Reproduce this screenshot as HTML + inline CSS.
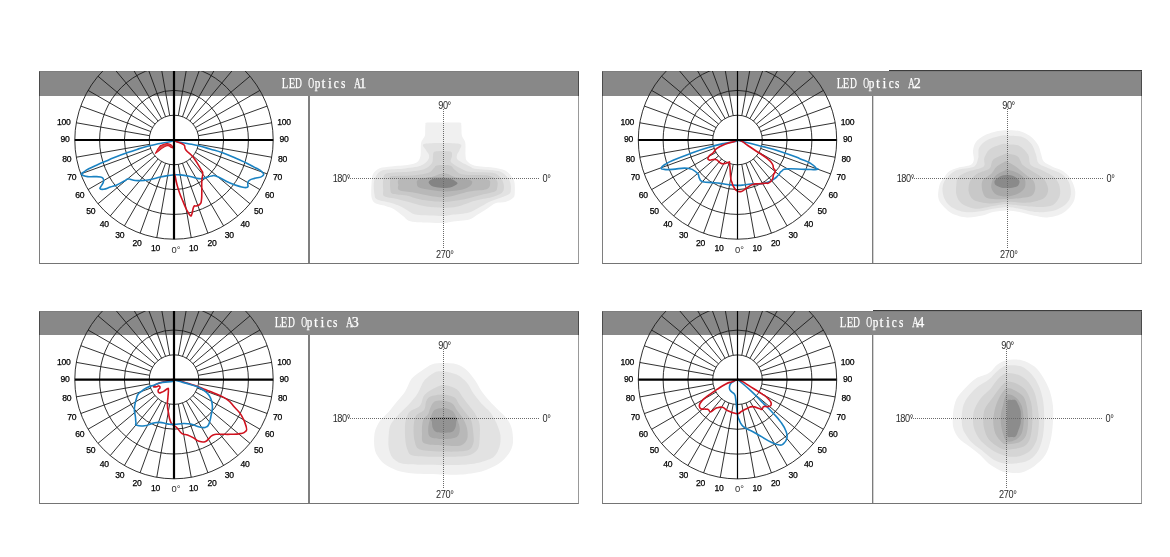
<!DOCTYPE html>
<html><head><meta charset="utf-8"><title>LED Optics</title>
<style>
html,body{margin:0;padding:0;background:#fff;}
body{width:1170px;height:557px;position:relative;overflow:hidden;}
.box{position:absolute;border:1px solid #8a8a8a;border-left-color:#7e7e7e;border-right-color:#999;border-bottom-color:#747474;border-top:none;box-sizing:content-box;}
.dk{position:absolute;height:1px;background:#3c3c3c;}
.hdr{position:absolute;background:#888888;box-sizing:border-box;border-top:1px solid #7e7e7e;border-left:1px solid #4a4a4a;border-right:1px solid #4a4a4a;}
.div{position:absolute;width:2px;background:#7f7f7f;}
.ttl{position:absolute;height:14px;font-family:"Liberation Serif",serif;font-size:14px;line-height:14px;color:#fff;white-space:nowrap;-webkit-text-stroke:0.25px #fff;}
.ttl span{display:inline-block;width:6.5px;text-align:center;}
.ttl span.w{transform:scaleX(0.76);}
.ttl span.d{transform:scaleX(0.68);}
.ttl span.o{transform:scaleX(0.58);}
.ttl span.m{transform:scaleX(0.8);}
svg{position:absolute;left:0;top:0;}
.pl{font-family:"Liberation Sans",Arial,sans-serif;font-size:8.6px;fill:#000;stroke:#000;stroke-width:0.25;text-anchor:middle;letter-spacing:-0.3px;}
.pl0{font-family:"Liberation Sans",Arial,sans-serif;font-size:9.4px;fill:#2a2a2a;}
.cl{font-family:"Liberation Sans",Arial,sans-serif;font-size:10px;fill:#2a2a2a;letter-spacing:-0.45px;}
.dot{stroke:#6a6a6a;stroke-width:1;stroke-dasharray:1 1;shape-rendering:crispEdges;}
</style></head><body>

<div class="box" style="left:39px;top:71px;width:538px;height:192px"></div>
<div class="hdr" style="left:39px;top:71px;width:540px;height:25px"></div>
<div class="div" style="left:308px;top:96px;height:167px"></div>
<div class="ttl" style="left:281.2px;top:76.7px"><span class="w">L</span><span class="w">E</span><span class="d">D</span><span>&nbsp;</span><span class="o">O</span><span class="m">p</span><span>t</span><span>i</span><span class="m">c</span><span class="m">s</span><span>&nbsp;</span><span class="d">A</span><span>1</span></div>
<div class="box" style="left:602px;top:71px;width:538px;height:192px"></div>
<div class="hdr" style="left:602px;top:71px;width:540px;height:25px"></div>
<div class="dk" style="left:889px;top:70px;width:253px"></div>
<div class="div" style="left:872px;top:96px;height:167px;width:1px;background:#7c7c7c;box-shadow:1px 0 0 #d2d2d2"></div>
<div class="ttl" style="left:835.7px;top:76.7px"><span class="w">L</span><span class="w">E</span><span class="d">D</span><span>&nbsp;</span><span class="o">O</span><span class="m">p</span><span>t</span><span>i</span><span class="m">c</span><span class="m">s</span><span>&nbsp;</span><span class="d">A</span><span>2</span></div>
<div class="box" style="left:39px;top:311px;width:538px;height:192px"></div>
<div class="hdr" style="left:39px;top:311px;width:540px;height:24px"></div>
<div class="div" style="left:308px;top:335px;height:168px"></div>
<div class="ttl" style="left:273.7px;top:316.3px"><span class="w">L</span><span class="w">E</span><span class="d">D</span><span>&nbsp;</span><span class="o">O</span><span class="m">p</span><span>t</span><span>i</span><span class="m">c</span><span class="m">s</span><span>&nbsp;</span><span class="d">A</span><span>3</span></div>
<div class="box" style="left:602px;top:311px;width:538px;height:192px"></div>
<div class="hdr" style="left:602px;top:311px;width:540px;height:24px"></div>
<div class="dk" style="left:873px;top:310px;width:269px"></div>
<div class="div" style="left:872px;top:335px;height:168px;width:1px;background:#7c7c7c;box-shadow:1px 0 0 #d2d2d2"></div>
<div class="ttl" style="left:839.2px;top:316.3px"><span class="w">L</span><span class="w">E</span><span class="d">D</span><span>&nbsp;</span><span class="o">O</span><span class="m">p</span><span>t</span><span>i</span><span class="m">c</span><span class="m">s</span><span>&nbsp;</span><span class="d">A</span><span>4</span></div>
<svg width="1170" height="557" viewBox="0 0 1170 557">
<defs><filter id="soft" x="-10%" y="-10%" width="120%" height="120%"><feGaussianBlur stdDeviation="0.7"/></filter>
<clipPath id="clip0"><rect x="39" y="71" width="539" height="192"/></clipPath>
<clipPath id="clip1"><rect x="602" y="71" width="539" height="192"/></clipPath>
<clipPath id="clip2"><rect x="39" y="311" width="539" height="192"/></clipPath>
<clipPath id="clip3"><rect x="602" y="311" width="539" height="192"/></clipPath>
</defs>
<g clip-path="url(#clip0)">
<circle cx="174.0" cy="140.0" r="24.8" fill="none" stroke="#1a1a1a" stroke-width="0.9"/>
<circle cx="174.0" cy="140.0" r="49.6" fill="none" stroke="#1a1a1a" stroke-width="0.9"/>
<circle cx="174.0" cy="140.0" r="74.4" fill="none" stroke="#1a1a1a" stroke-width="0.9"/>
<circle cx="174.0" cy="140.0" r="99.2" fill="none" stroke="#1a1a1a" stroke-width="0.9"/>
<line x1="178.31" y1="164.42" x2="191.23" y2="237.69" stroke="#1a1a1a" stroke-width="0.9"/>
<line x1="182.48" y1="163.30" x2="207.93" y2="233.22" stroke="#1a1a1a" stroke-width="0.9"/>
<line x1="186.40" y1="161.48" x2="223.60" y2="225.91" stroke="#1a1a1a" stroke-width="0.9"/>
<line x1="189.94" y1="159.00" x2="237.76" y2="215.99" stroke="#1a1a1a" stroke-width="0.9"/>
<line x1="193.00" y1="155.94" x2="249.99" y2="203.76" stroke="#1a1a1a" stroke-width="0.9"/>
<line x1="195.48" y1="152.40" x2="259.91" y2="189.60" stroke="#1a1a1a" stroke-width="0.9"/>
<line x1="197.30" y1="148.48" x2="267.22" y2="173.93" stroke="#1a1a1a" stroke-width="0.9"/>
<line x1="198.42" y1="144.31" x2="271.69" y2="157.23" stroke="#1a1a1a" stroke-width="0.9"/>
<line x1="198.42" y1="135.69" x2="271.69" y2="122.77" stroke="#1a1a1a" stroke-width="0.9"/>
<line x1="197.30" y1="131.52" x2="267.22" y2="106.07" stroke="#1a1a1a" stroke-width="0.9"/>
<line x1="195.48" y1="127.60" x2="259.91" y2="90.40" stroke="#1a1a1a" stroke-width="0.9"/>
<line x1="193.00" y1="124.06" x2="249.99" y2="76.24" stroke="#1a1a1a" stroke-width="0.9"/>
<line x1="189.94" y1="121.00" x2="237.76" y2="64.01" stroke="#1a1a1a" stroke-width="0.9"/>
<line x1="186.40" y1="118.52" x2="223.60" y2="54.09" stroke="#1a1a1a" stroke-width="0.9"/>
<line x1="182.48" y1="116.70" x2="207.93" y2="46.78" stroke="#1a1a1a" stroke-width="0.9"/>
<line x1="178.31" y1="115.58" x2="191.23" y2="42.31" stroke="#1a1a1a" stroke-width="0.9"/>
<line x1="169.69" y1="115.58" x2="156.77" y2="42.31" stroke="#1a1a1a" stroke-width="0.9"/>
<line x1="165.52" y1="116.70" x2="140.07" y2="46.78" stroke="#1a1a1a" stroke-width="0.9"/>
<line x1="161.60" y1="118.52" x2="124.40" y2="54.09" stroke="#1a1a1a" stroke-width="0.9"/>
<line x1="158.06" y1="121.00" x2="110.24" y2="64.01" stroke="#1a1a1a" stroke-width="0.9"/>
<line x1="155.00" y1="124.06" x2="98.01" y2="76.24" stroke="#1a1a1a" stroke-width="0.9"/>
<line x1="152.52" y1="127.60" x2="88.09" y2="90.40" stroke="#1a1a1a" stroke-width="0.9"/>
<line x1="150.70" y1="131.52" x2="80.78" y2="106.07" stroke="#1a1a1a" stroke-width="0.9"/>
<line x1="149.58" y1="135.69" x2="76.31" y2="122.77" stroke="#1a1a1a" stroke-width="0.9"/>
<line x1="149.58" y1="144.31" x2="76.31" y2="157.23" stroke="#1a1a1a" stroke-width="0.9"/>
<line x1="150.70" y1="148.48" x2="80.78" y2="173.93" stroke="#1a1a1a" stroke-width="0.9"/>
<line x1="152.52" y1="152.40" x2="88.09" y2="189.60" stroke="#1a1a1a" stroke-width="0.9"/>
<line x1="155.00" y1="155.94" x2="98.01" y2="203.76" stroke="#1a1a1a" stroke-width="0.9"/>
<line x1="158.06" y1="159.00" x2="110.24" y2="215.99" stroke="#1a1a1a" stroke-width="0.9"/>
<line x1="161.60" y1="161.48" x2="124.40" y2="225.91" stroke="#1a1a1a" stroke-width="0.9"/>
<line x1="165.52" y1="163.30" x2="140.07" y2="233.22" stroke="#1a1a1a" stroke-width="0.9"/>
<line x1="169.69" y1="164.42" x2="156.77" y2="237.69" stroke="#1a1a1a" stroke-width="0.9"/>
</g>
<text x="171.6" y="252.6" class="pl0">0°</text>
<text x="155.6" y="251.3" class="pl">10</text>
<text x="193.6" y="251.3" class="pl">10</text>
<text x="137.1" y="246.3" class="pl">20</text>
<text x="212.1" y="246.3" class="pl">20</text>
<text x="119.8" y="238.2" class="pl">30</text>
<text x="229.3" y="238.2" class="pl">30</text>
<text x="104.2" y="227.1" class="pl">40</text>
<text x="245.0" y="227.1" class="pl">40</text>
<text x="90.7" y="213.5" class="pl">50</text>
<text x="258.5" y="213.5" class="pl">50</text>
<text x="79.8" y="197.7" class="pl">60</text>
<text x="269.4" y="197.7" class="pl">60</text>
<text x="71.7" y="180.2" class="pl">70</text>
<text x="277.5" y="180.2" class="pl">70</text>
<text x="66.8" y="161.6" class="pl">80</text>
<text x="282.4" y="161.6" class="pl">80</text>
<text x="65.1" y="142.4" class="pl">90</text>
<text x="284.1" y="142.4" class="pl">90</text>
<text x="63.7" y="124.9" class="pl">100</text>
<text x="283.9" y="124.9" class="pl">100</text>
<path d="M174.00,140.00 C172.61,140.00 174.73,140.57 171.00,141.50 C167.27,142.43 165.76,142.35 160.00,143.50 C154.24,144.65 155.53,144.20 149.40,145.80 C143.27,147.40 143.32,147.50 137.00,149.50 C130.68,151.50 131.57,151.22 125.70,153.30 C119.83,155.38 120.17,155.27 115.00,157.30 C109.83,159.33 110.83,158.98 106.30,160.90 C101.77,162.82 102.67,162.39 98.00,164.50 C93.33,166.61 92.56,166.80 88.80,168.80 C85.04,170.80 85.77,170.51 83.90,172.00 C82.03,173.49 80.79,173.17 81.80,174.40 C82.81,175.63 84.39,176.01 87.70,176.60 C91.01,177.19 90.76,176.47 94.20,176.60 C97.64,176.73 98.17,176.46 100.60,177.10 C103.03,177.74 102.58,177.64 103.30,179.00 C104.02,180.36 103.86,180.33 103.30,182.20 C102.74,184.07 102.05,184.27 101.20,186.00 C100.35,187.73 99.41,187.85 100.10,188.70 C100.79,189.55 101.08,189.63 103.80,189.20 C106.52,188.77 106.83,188.25 110.30,187.10 C113.77,185.95 113.20,186.47 116.80,184.90 C120.40,183.33 120.79,182.77 123.80,181.20 C126.81,179.63 125.94,179.37 128.10,179.00 C130.26,178.63 129.26,179.37 131.90,179.80 C134.54,180.23 133.33,180.63 138.00,180.60 C142.67,180.57 143.48,180.66 149.40,179.70 C155.32,178.74 155.24,178.09 160.20,177.00 C165.16,175.91 164.32,176.13 168.00,175.60 C171.68,175.07 170.67,175.19 174.00,175.00 C177.33,174.81 176.18,174.50 180.50,174.90 C184.82,175.30 185.32,175.51 190.20,176.50 C195.08,177.49 195.07,178.17 198.80,178.60 C202.53,179.03 200.76,178.79 204.20,178.10 C207.64,177.41 208.26,176.43 211.70,176.00 C215.14,175.57 212.22,174.63 217.10,176.50 C221.98,178.37 223.68,180.28 230.00,183.00 C236.32,185.72 236.19,185.55 240.80,186.70 C245.41,187.85 245.43,188.15 247.30,187.30 C249.17,186.45 247.24,185.37 247.80,183.50 C248.36,181.63 247.24,181.74 249.40,180.30 C251.56,178.86 252.59,179.11 255.90,178.10 C259.21,177.09 260.07,178.07 261.80,176.50 C263.53,174.93 264.75,174.87 262.40,172.20 C260.05,169.53 257.91,169.25 253.00,166.50 C248.09,163.75 249.33,164.43 244.00,161.90 C238.67,159.37 238.73,159.43 233.00,157.00 C227.27,154.57 228.63,154.93 222.50,152.80 C216.37,150.67 216.32,150.87 210.00,149.00 C203.68,147.13 204.93,147.27 198.80,145.80 C192.67,144.33 193.03,144.65 187.00,143.50 C180.97,142.35 179.67,142.43 176.20,141.50 C172.73,140.57 175.39,140.00 174.00,140.00 Z" fill="none" stroke="#1a82c2" stroke-width="1.6" stroke-linejoin="round"/>
<path d="M174.00,140.00 C174.59,139.60 173.61,140.25 176.20,141.50 C178.79,142.75 181.11,142.41 183.70,144.70 C186.29,146.99 183.31,146.66 185.90,150.10 C188.49,153.54 189.40,152.43 193.40,157.60 C197.40,162.77 198.42,165.23 200.90,169.50 C203.38,173.77 202.46,170.59 202.70,173.60 C202.94,176.61 202.04,175.79 201.80,180.80 C201.56,185.81 201.91,187.15 201.80,192.40 C201.69,197.65 201.88,197.38 201.40,200.50 C200.92,203.62 201.33,202.66 200.00,204.10 C198.67,205.54 198.08,205.18 196.40,205.90 C194.72,206.62 194.90,204.64 193.70,206.80 C192.50,208.96 192.86,211.73 191.90,214.00 C190.94,216.27 191.54,216.50 190.10,215.30 C188.66,214.10 188.39,213.21 186.50,209.50 C184.61,205.79 184.89,205.96 183.00,201.40 C181.11,196.84 181.08,197.17 179.40,192.40 C177.72,187.63 177.79,187.61 176.70,183.50 C175.61,179.39 175.94,180.07 175.30,177.00 C174.66,173.93 174.62,176.53 174.30,172.00 C173.98,167.47 174.15,165.87 174.10,160.00 C174.05,154.13 174.13,154.53 174.10,150.00 C174.07,145.47 174.03,145.67 174.00,143.00 C173.97,140.33 173.41,140.40 174.00,140.00 Z" fill="none" stroke="#d0121f" stroke-width="1.6" stroke-linejoin="round"/>
<polygon points="155.4,153.4 157.8,149 160.2,145.8 163.9,144.3 167,143.5 169.4,144 171.3,145 172.6,146.4 173.4,147.6 172.6,147.9 170.8,147.2 169.2,145.9 167.6,145.6 164.8,146.6 161.5,148.6 157.8,151.6" fill="#dc4a4a" stroke="#d0121f" stroke-width="1.1" stroke-linejoin="round"/>
<g clip-path="url(#clip0)">
<line x1="74.80" y1="140.0" x2="273.20" y2="140.0" stroke="#000" stroke-width="2.2"/>
<line x1="174.0" y1="40.80" x2="174.0" y2="239.20" stroke="#000" stroke-width="2.2"/>
</g>
<g filter="url(#soft)">
<path d="M427.00,122.60 C429.62,122.28 438.12,122.40 443.00,122.40 C447.88,122.40 456.77,122.28 459.50,122.60 C462.23,122.91 460.90,123.39 461.20,124.50 C461.50,125.61 461.38,128.28 461.50,130.00 C461.62,131.72 461.43,134.08 462.00,136.00 C462.57,137.92 464.78,139.95 465.30,142.80 C465.82,145.65 465.25,152.27 465.50,155.00 C465.75,157.73 465.57,159.38 467.00,161.00 C468.43,162.62 471.18,164.81 475.00,165.80 C478.82,166.79 487.95,166.89 492.50,167.60 C497.05,168.31 502.33,169.01 505.30,170.50 C508.27,171.99 510.90,175.62 512.30,177.50 C513.69,179.38 514.25,180.38 514.60,183.00 C514.95,185.62 514.95,192.68 514.60,195.00 C514.25,197.32 513.69,197.45 512.30,198.50 C510.90,199.55 507.75,201.31 505.30,202.00 C502.86,202.69 498.81,202.05 496.00,203.10 C493.19,204.15 489.41,207.25 486.60,209.00 C483.80,210.75 479.91,213.23 477.30,214.80 C474.69,216.38 473.04,218.45 469.20,219.50 C465.36,220.55 455.69,221.28 451.70,221.80 C447.71,222.33 448.51,223.00 442.60,223.00 C436.69,223.00 418.24,222.85 412.30,221.80 C406.36,220.75 405.79,217.92 403.00,216.00 C400.21,214.08 396.32,210.50 393.70,209.00 C391.07,207.50 388.31,206.88 385.50,206.00 C382.69,205.12 377.10,204.45 375.00,203.10 C372.90,201.75 372.02,199.87 371.50,197.00 C370.98,194.13 371.27,187.45 371.50,184.00 C371.73,180.55 371.77,176.37 373.00,174.00 C374.23,171.63 376.95,169.34 379.70,168.20 C382.44,167.06 386.94,166.93 391.30,166.40 C395.67,165.88 404.94,165.31 408.80,164.70 C412.66,164.08 415.25,163.61 417.00,162.30 C418.75,161.00 419.88,158.93 420.50,156.00 C421.12,153.07 420.46,145.80 421.10,142.80 C421.75,139.80 424.19,137.92 424.80,136.00 C425.42,134.08 425.09,131.72 425.20,130.00 C425.31,128.28 425.23,125.61 425.50,124.50 C425.77,123.39 424.38,122.91 427.00,122.60 Z" fill="#f0f0f0"/>
<path d="M424.90,143.80 C429.82,142.87 453.61,142.87 458.80,143.80 C463.99,144.73 459.77,148.32 459.50,150.00 C459.23,151.68 457.23,153.50 457.00,155.00 C456.77,156.50 456.05,158.28 458.00,160.00 C459.95,161.72 467.45,165.19 470.00,166.50 C472.55,167.81 470.75,168.01 475.00,168.70 C479.25,169.39 493.41,169.78 498.30,171.10 C503.19,172.42 505.75,175.56 507.60,177.50 C509.45,179.44 510.15,181.82 510.60,184.00 C511.05,186.18 511.05,190.35 510.60,192.00 C510.15,193.65 509.45,194.03 507.60,195.00 C505.75,195.97 501.09,197.45 498.30,198.50 C495.51,199.55 491.62,200.78 489.00,202.00 C486.38,203.22 483.77,205.03 480.80,206.60 C477.83,208.17 473.56,211.27 469.20,212.50 C464.83,213.73 455.69,214.28 451.70,214.80 C447.71,215.33 447.81,216.00 442.60,216.00 C437.40,216.00 422.07,215.50 417.00,214.80 C411.93,214.10 411.25,212.53 408.80,211.30 C406.36,210.07 403.32,207.83 400.70,206.60 C398.07,205.37 394.81,204.15 391.30,203.10 C387.79,202.05 379.84,200.97 377.30,199.60 C374.76,198.23 374.83,196.94 374.40,194.00 C373.96,191.06 373.26,183.53 374.40,180.00 C375.54,176.47 377.71,172.19 382.00,170.50 C386.29,168.81 397.23,169.40 403.00,168.70 C408.77,168.00 416.75,167.11 420.50,165.80 C424.25,164.50 426.73,161.62 428.00,160.00 C429.27,158.38 429.30,156.50 429.00,155.00 C428.70,153.50 426.62,151.68 426.00,150.00 C425.38,148.32 419.98,144.73 424.90,143.80 Z" fill="#e2e2e2"/>
<path d="M435.10,151.40 C437.68,150.71 447.66,150.71 450.20,151.40 C452.74,152.09 451.88,154.41 452.00,156.00 C452.12,157.59 449.80,160.20 451.00,162.00 C452.20,163.80 457.27,166.55 460.00,168.00 C462.73,169.45 464.32,170.98 469.20,171.70 C474.07,172.42 487.79,171.93 492.50,172.80 C497.21,173.67 498.94,175.82 500.60,177.50 C502.27,179.18 503.15,182.12 503.60,184.00 C504.05,185.88 504.05,188.53 503.60,190.00 C503.15,191.47 502.45,192.71 500.60,193.80 C498.75,194.90 495.14,196.25 491.30,197.30 C487.46,198.35 480.07,199.41 475.00,200.80 C469.93,202.20 462.23,205.55 457.50,206.60 C452.77,207.65 448.18,207.80 443.50,207.80 C438.82,207.80 430.98,207.31 426.30,206.60 C421.62,205.89 416.67,204.24 412.30,203.10 C407.94,201.96 401.40,200.03 397.20,199.00 C393.00,197.97 386.40,197.55 384.30,196.20 C382.20,194.85 383.37,192.43 383.20,190.00 C383.03,187.57 382.68,182.49 383.20,180.00 C383.72,177.51 382.86,174.65 386.70,173.40 C390.54,172.16 403.20,172.31 408.80,171.70 C414.40,171.08 420.52,170.61 424.00,169.30 C427.48,168.00 430.65,165.00 432.00,163.00 C433.35,161.00 432.53,157.74 433.00,156.00 C433.47,154.26 432.52,152.09 435.10,151.40 Z" fill="#d5d5d5"/>
<path d="M437.00,165.40 C439.40,165.01 447.30,164.71 450.00,165.40 C452.70,166.09 453.00,168.62 455.00,170.00 C457.00,171.38 458.20,173.75 463.30,174.60 C468.40,175.45 483.93,174.74 489.00,175.70 C494.07,176.66 495.88,179.16 497.10,181.00 C498.32,182.84 497.45,186.43 497.10,188.00 C496.75,189.57 497.25,190.45 494.80,191.50 C492.36,192.55 485.53,193.78 480.80,195.00 C476.07,196.22 468.90,198.55 463.30,199.60 C457.70,200.65 449.92,202.00 443.50,202.00 C437.08,202.00 426.05,200.56 420.50,199.60 C414.95,198.64 410.70,196.47 406.50,195.60 C402.30,194.73 394.94,194.94 392.50,193.80 C390.06,192.66 390.55,190.07 390.20,188.00 C389.85,185.93 390.03,181.75 390.20,180.00 C390.37,178.25 387.64,177.02 391.30,176.30 C394.96,175.58 409.00,175.72 414.60,175.20 C420.20,174.67 425.69,173.88 428.60,172.80 C431.51,171.72 432.74,169.11 434.00,168.00 C435.26,166.89 434.60,165.79 437.00,165.40 Z" fill="#c8c8c8"/>
<path d="M440.00,174.00 C442.91,173.47 445.38,173.47 448.00,174.00 C450.62,174.53 451.71,176.72 457.50,177.50 C463.29,178.28 481.71,178.22 486.60,179.20 C491.49,180.17 490.10,182.50 490.10,184.00 C490.10,185.50 489.74,188.07 486.60,189.20 C483.47,190.32 475.66,190.28 469.20,191.50 C462.74,192.72 451.69,197.12 443.50,197.30 C435.31,197.48 421.20,193.75 414.60,192.70 C408.00,191.65 401.94,191.46 399.50,190.30 C397.06,189.15 398.12,186.74 398.30,185.00 C398.48,183.26 396.15,179.82 400.70,178.70 C405.25,177.57 422.71,178.20 428.60,177.50 C434.50,176.80 437.09,174.53 440.00,174.00 Z" fill="#b8b8b8"/>
<path d="M418.10,179.80 C419.84,178.83 424.79,177.92 428.60,177.50 C432.41,177.08 437.41,176.66 443.50,177.00 C449.59,177.34 465.00,178.68 469.20,179.80 C473.40,180.93 472.38,183.09 471.50,184.50 C470.62,185.91 467.50,188.15 463.30,189.20 C459.10,190.25 449.92,191.68 443.50,191.50 C437.08,191.32 424.48,189.12 420.50,188.00 C416.52,186.88 417.36,185.23 417.00,184.00 C416.64,182.77 416.36,180.78 418.10,179.80 Z" fill="#a8a8a8"/>
<path d="M428.60,182.20 C428.65,181.03 431.06,179.30 433.30,178.70 C435.54,178.10 440.74,178.12 443.50,178.20 C446.26,178.27 449.60,178.43 451.70,179.20 C453.80,179.97 457.50,182.13 457.50,183.30 C457.50,184.47 453.80,186.30 451.70,187.00 C449.60,187.70 446.31,188.07 443.50,188.00 C440.69,187.93 435.24,187.37 433.00,186.50 C430.76,185.63 428.56,183.37 428.60,182.20 Z" fill="#848484"/>
</g>
<line x1="348.0" y1="178.5" x2="540.0" y2="178.5" class="dot"/>
<line x1="443.5" y1="109.0" x2="443.5" y2="248.0" class="dot"/>
<text transform="translate(438.2,109.0) scale(0.92,1)" class="cl" text-anchor="start">90°</text>
<text transform="translate(436.1,258.1) scale(0.92,1)" class="cl" text-anchor="start">270°</text>
<text transform="translate(350.0,181.8) scale(0.92,1)" class="cl" text-anchor="end">180°</text>
<text transform="translate(542.5,181.6) scale(0.92,1)" class="cl" text-anchor="start">0°</text>
<g clip-path="url(#clip1)">
<circle cx="737.5" cy="140.0" r="24.8" fill="none" stroke="#1a1a1a" stroke-width="0.9"/>
<circle cx="737.5" cy="140.0" r="49.6" fill="none" stroke="#1a1a1a" stroke-width="0.9"/>
<circle cx="737.5" cy="140.0" r="74.4" fill="none" stroke="#1a1a1a" stroke-width="0.9"/>
<circle cx="737.5" cy="140.0" r="99.2" fill="none" stroke="#1a1a1a" stroke-width="0.9"/>
<line x1="741.81" y1="164.42" x2="754.73" y2="237.69" stroke="#1a1a1a" stroke-width="0.9"/>
<line x1="745.98" y1="163.30" x2="771.43" y2="233.22" stroke="#1a1a1a" stroke-width="0.9"/>
<line x1="749.90" y1="161.48" x2="787.10" y2="225.91" stroke="#1a1a1a" stroke-width="0.9"/>
<line x1="753.44" y1="159.00" x2="801.26" y2="215.99" stroke="#1a1a1a" stroke-width="0.9"/>
<line x1="756.50" y1="155.94" x2="813.49" y2="203.76" stroke="#1a1a1a" stroke-width="0.9"/>
<line x1="758.98" y1="152.40" x2="823.41" y2="189.60" stroke="#1a1a1a" stroke-width="0.9"/>
<line x1="760.80" y1="148.48" x2="830.72" y2="173.93" stroke="#1a1a1a" stroke-width="0.9"/>
<line x1="761.92" y1="144.31" x2="835.19" y2="157.23" stroke="#1a1a1a" stroke-width="0.9"/>
<line x1="761.92" y1="135.69" x2="835.19" y2="122.77" stroke="#1a1a1a" stroke-width="0.9"/>
<line x1="760.80" y1="131.52" x2="830.72" y2="106.07" stroke="#1a1a1a" stroke-width="0.9"/>
<line x1="758.98" y1="127.60" x2="823.41" y2="90.40" stroke="#1a1a1a" stroke-width="0.9"/>
<line x1="756.50" y1="124.06" x2="813.49" y2="76.24" stroke="#1a1a1a" stroke-width="0.9"/>
<line x1="753.44" y1="121.00" x2="801.26" y2="64.01" stroke="#1a1a1a" stroke-width="0.9"/>
<line x1="749.90" y1="118.52" x2="787.10" y2="54.09" stroke="#1a1a1a" stroke-width="0.9"/>
<line x1="745.98" y1="116.70" x2="771.43" y2="46.78" stroke="#1a1a1a" stroke-width="0.9"/>
<line x1="741.81" y1="115.58" x2="754.73" y2="42.31" stroke="#1a1a1a" stroke-width="0.9"/>
<line x1="733.19" y1="115.58" x2="720.27" y2="42.31" stroke="#1a1a1a" stroke-width="0.9"/>
<line x1="729.02" y1="116.70" x2="703.57" y2="46.78" stroke="#1a1a1a" stroke-width="0.9"/>
<line x1="725.10" y1="118.52" x2="687.90" y2="54.09" stroke="#1a1a1a" stroke-width="0.9"/>
<line x1="721.56" y1="121.00" x2="673.74" y2="64.01" stroke="#1a1a1a" stroke-width="0.9"/>
<line x1="718.50" y1="124.06" x2="661.51" y2="76.24" stroke="#1a1a1a" stroke-width="0.9"/>
<line x1="716.02" y1="127.60" x2="651.59" y2="90.40" stroke="#1a1a1a" stroke-width="0.9"/>
<line x1="714.20" y1="131.52" x2="644.28" y2="106.07" stroke="#1a1a1a" stroke-width="0.9"/>
<line x1="713.08" y1="135.69" x2="639.81" y2="122.77" stroke="#1a1a1a" stroke-width="0.9"/>
<line x1="713.08" y1="144.31" x2="639.81" y2="157.23" stroke="#1a1a1a" stroke-width="0.9"/>
<line x1="714.20" y1="148.48" x2="644.28" y2="173.93" stroke="#1a1a1a" stroke-width="0.9"/>
<line x1="716.02" y1="152.40" x2="651.59" y2="189.60" stroke="#1a1a1a" stroke-width="0.9"/>
<line x1="718.50" y1="155.94" x2="661.51" y2="203.76" stroke="#1a1a1a" stroke-width="0.9"/>
<line x1="721.56" y1="159.00" x2="673.74" y2="215.99" stroke="#1a1a1a" stroke-width="0.9"/>
<line x1="725.10" y1="161.48" x2="687.90" y2="225.91" stroke="#1a1a1a" stroke-width="0.9"/>
<line x1="729.02" y1="163.30" x2="703.57" y2="233.22" stroke="#1a1a1a" stroke-width="0.9"/>
<line x1="733.19" y1="164.42" x2="720.27" y2="237.69" stroke="#1a1a1a" stroke-width="0.9"/>
</g>
<text x="735.1" y="252.6" class="pl0">0°</text>
<text x="719.1" y="251.3" class="pl">10</text>
<text x="757.1" y="251.3" class="pl">10</text>
<text x="700.6" y="246.3" class="pl">20</text>
<text x="775.6" y="246.3" class="pl">20</text>
<text x="683.4" y="238.2" class="pl">30</text>
<text x="792.9" y="238.2" class="pl">30</text>
<text x="667.7" y="227.1" class="pl">40</text>
<text x="808.5" y="227.1" class="pl">40</text>
<text x="654.2" y="213.5" class="pl">50</text>
<text x="822.0" y="213.5" class="pl">50</text>
<text x="643.3" y="197.7" class="pl">60</text>
<text x="832.9" y="197.7" class="pl">60</text>
<text x="635.2" y="180.2" class="pl">70</text>
<text x="841.0" y="180.2" class="pl">70</text>
<text x="630.3" y="161.6" class="pl">80</text>
<text x="845.9" y="161.6" class="pl">80</text>
<text x="628.6" y="142.4" class="pl">90</text>
<text x="847.6" y="142.4" class="pl">90</text>
<text x="627.2" y="124.9" class="pl">100</text>
<text x="847.4" y="124.9" class="pl">100</text>
<path d="M737.50,140.00 C736.41,140.16 738.93,140.55 735.60,141.40 C732.27,142.25 732.49,141.49 725.00,143.20 C717.51,144.91 716.83,145.00 707.50,147.80 C698.17,150.60 699.01,150.42 690.00,153.70 C680.99,156.98 680.23,157.30 673.70,160.10 C667.17,162.90 668.78,162.17 665.50,164.20 C662.22,166.23 661.72,166.31 661.40,167.70 C661.08,169.09 661.34,168.95 664.30,169.40 C667.26,169.85 666.26,169.69 672.50,169.40 C678.74,169.11 681.17,167.37 687.70,168.30 C694.23,169.23 693.88,170.26 697.00,172.90 C700.12,175.54 697.83,175.85 699.40,178.20 C700.97,180.55 699.17,180.53 702.90,181.70 C706.63,182.87 708.49,182.12 713.40,182.60 C718.31,183.08 717.51,182.99 721.30,183.50 C725.09,184.01 723.41,183.99 727.60,184.50 C731.79,185.01 732.31,185.32 737.00,185.40 C741.69,185.48 741.01,185.23 745.20,184.80 C749.39,184.37 749.18,184.01 752.70,183.80 C756.22,183.59 754.40,184.40 758.40,184.00 C762.40,183.60 763.67,183.53 767.70,182.30 C771.73,181.07 770.70,181.27 773.50,179.40 C776.30,177.53 776.01,177.49 778.20,175.30 C780.39,173.11 779.22,172.91 781.70,171.20 C784.18,169.49 781.29,169.38 787.50,168.90 C793.71,168.42 797.21,169.27 805.00,169.40 C812.79,169.53 813.87,169.85 816.70,169.40 C819.53,168.95 817.15,169.25 815.60,167.70 C814.05,166.15 814.95,165.95 810.90,163.60 C806.85,161.25 808.19,162.02 800.40,158.90 C792.61,155.78 792.90,155.47 781.70,151.90 C770.50,148.33 769.60,148.46 758.40,145.50 C747.20,142.54 745.27,142.27 739.70,140.80 C734.13,139.33 738.59,139.84 737.50,140.00 Z" fill="none" stroke="#1a82c2" stroke-width="1.6" stroke-linejoin="round"/>
<path d="M737.50,140.00 C735.47,140.00 737.73,140.25 734.40,141.40 C731.07,142.55 729.67,142.43 725.00,144.30 C720.33,146.17 719.99,146.21 716.90,148.40 C713.81,150.59 715.59,150.31 713.40,152.50 C711.21,154.69 709.79,154.57 708.70,156.60 C707.61,158.63 707.43,159.33 709.30,160.10 C711.17,160.87 712.74,158.73 715.70,159.50 C718.66,160.27 718.21,161.91 720.40,163.00 C722.59,164.09 721.71,163.76 723.90,163.60 C726.09,163.44 727.05,162.24 728.60,162.40 C730.15,162.56 729.14,160.15 729.70,164.20 C730.26,168.25 730.09,172.69 730.70,177.60 C731.31,182.51 731.17,180.09 732.00,182.60 C732.83,185.11 732.47,184.81 733.80,187.00 C735.13,189.19 734.97,189.63 737.00,190.80 C739.03,191.97 738.89,192.09 741.40,191.40 C743.91,190.71 743.39,190.04 746.40,188.20 C749.41,186.36 749.34,185.67 752.70,184.50 C756.06,183.33 755.64,184.15 759.00,183.80 C762.36,183.45 762.66,183.44 765.30,183.20 C767.94,182.96 767.01,183.91 768.90,182.90 C770.79,181.89 771.17,181.59 772.40,179.40 C773.63,177.21 772.73,176.89 773.50,174.70 C774.27,172.51 775.30,172.91 775.30,171.20 C775.30,169.49 774.27,170.17 773.50,168.30 C772.73,166.43 773.95,166.71 772.40,164.20 C770.85,161.69 771.43,162.02 767.70,158.90 C763.97,155.78 763.71,156.07 758.40,152.50 C753.09,148.93 752.17,148.46 747.80,145.50 C743.43,142.54 744.75,142.87 742.00,141.40 C739.25,139.93 739.53,140.00 737.50,140.00 Z" fill="none" stroke="#d0121f" stroke-width="1.6" stroke-linejoin="round"/>
<g clip-path="url(#clip1)">
<line x1="638.30" y1="140.0" x2="836.70" y2="140.0" stroke="#000" stroke-width="2.2"/>
<line x1="737.5" y1="40.80" x2="737.5" y2="239.20" stroke="#000" stroke-width="1.2"/>
</g>
<g filter="url(#soft)">
<path d="M1007.20,130.20 C1010.38,130.20 1015.74,130.05 1019.40,131.10 C1023.06,132.15 1028.72,134.98 1031.60,137.20 C1034.48,139.42 1037.16,143.29 1038.60,145.90 C1040.04,148.51 1040.42,152.25 1041.20,154.60 C1041.98,156.95 1042.11,159.77 1043.80,161.60 C1045.49,163.43 1049.88,165.50 1052.50,166.80 C1055.12,168.11 1058.94,169.00 1061.30,170.30 C1063.65,171.61 1066.51,173.67 1068.20,175.50 C1069.89,177.33 1071.55,180.15 1072.60,182.50 C1073.65,184.85 1074.94,188.59 1075.20,191.20 C1075.46,193.81 1075.08,197.55 1074.30,199.90 C1073.52,202.25 1071.95,204.80 1070.00,206.90 C1068.05,209.00 1064.70,212.33 1061.30,213.90 C1057.89,215.47 1051.48,217.15 1047.30,217.40 C1043.12,217.66 1037.59,216.39 1033.40,215.60 C1029.22,214.81 1023.33,212.88 1019.40,212.10 C1015.47,211.32 1011.16,210.40 1007.20,210.40 C1003.24,210.40 996.71,211.32 993.00,212.10 C989.29,212.88 986.41,214.81 982.50,215.60 C978.59,216.39 971.34,217.66 966.90,217.40 C962.46,217.15 956.05,215.21 952.90,213.90 C949.75,212.59 947.87,210.53 945.90,208.70 C943.93,206.87 940.97,203.80 939.80,201.70 C938.63,199.60 938.10,197.31 938.10,194.70 C938.10,192.09 938.88,186.91 939.80,184.30 C940.71,181.69 942.76,179.27 944.20,177.30 C945.64,175.34 947.31,172.64 949.40,171.20 C951.49,169.76 954.97,168.61 958.10,167.70 C961.24,166.78 967.94,166.27 970.30,165.10 C972.65,163.93 973.39,162.00 973.80,159.90 C974.20,157.80 972.73,153.72 973.00,151.10 C973.27,148.47 973.90,144.74 975.60,142.40 C977.30,140.06 980.91,137.19 984.30,135.50 C987.69,133.81 994.76,131.89 998.20,131.10 C1001.64,130.31 1004.02,130.20 1007.20,130.20 Z" fill="#f0f0f0"/>
<path d="M1007.20,135.50 C1010.38,135.75 1019.24,135.89 1022.90,137.20 C1026.56,138.50 1029.63,141.59 1031.60,144.20 C1033.56,146.81 1034.95,151.73 1036.00,154.60 C1037.05,157.47 1036.63,161.20 1038.60,163.30 C1040.56,165.40 1045.69,167.03 1049.10,168.60 C1052.50,170.17 1058.30,171.72 1061.30,173.80 C1064.30,175.89 1067.67,179.37 1069.10,182.50 C1070.52,185.63 1071.19,191.56 1070.80,194.70 C1070.41,197.83 1068.97,201.05 1066.50,203.40 C1064.03,205.75 1058.74,209.09 1054.30,210.40 C1049.86,211.71 1042.13,212.35 1036.90,212.10 C1031.67,211.84 1023.86,209.48 1019.40,208.70 C1014.94,207.92 1011.16,206.90 1007.20,206.90 C1003.24,206.90 996.96,208.04 993.00,208.70 C989.04,209.36 984.98,210.79 980.80,211.30 C976.62,211.81 969.54,212.76 965.10,212.10 C960.66,211.44 954.34,208.99 951.20,206.90 C948.07,204.81 945.51,201.08 944.20,198.20 C942.89,195.32 942.25,190.58 942.50,187.70 C942.75,184.82 943.81,181.61 945.90,179.00 C947.99,176.39 952.22,172.13 956.40,170.30 C960.58,168.47 970.53,168.63 973.80,166.80 C977.07,164.97 977.41,160.97 978.20,158.10 C979.00,155.23 977.66,150.44 979.10,147.70 C980.54,144.95 984.41,141.63 987.80,139.80 C991.19,137.97 998.79,136.15 1001.70,135.50 C1004.61,134.85 1004.02,135.25 1007.20,135.50 Z" fill="#e2e2e2"/>
<path d="M1007.20,144.20 C1009.86,144.45 1016.26,144.34 1019.40,145.90 C1022.53,147.46 1026.39,151.72 1028.10,154.60 C1029.81,157.48 1028.70,162.75 1030.80,165.10 C1032.90,167.45 1038.57,168.47 1042.10,170.30 C1045.62,172.13 1051.69,174.95 1054.30,177.30 C1056.91,179.66 1058.72,183.12 1059.50,186.00 C1060.28,188.88 1060.55,193.62 1059.50,196.50 C1058.45,199.38 1055.89,203.64 1052.50,205.20 C1049.11,206.76 1043.70,207.03 1036.90,206.90 C1030.11,206.77 1013.79,204.44 1007.20,204.30 C1000.62,204.17 997.74,205.34 993.00,206.00 C988.26,206.66 980.31,209.09 975.60,208.70 C970.89,208.31 964.48,205.50 961.60,203.40 C958.72,201.30 957.18,197.56 956.40,194.70 C955.62,191.83 956.14,186.91 956.40,184.30 C956.65,181.69 956.52,179.13 958.10,177.30 C959.68,175.47 963.11,173.67 966.90,172.10 C970.69,170.53 980.79,168.90 983.40,166.80 C986.01,164.70 983.38,160.71 984.30,158.10 C985.21,155.49 986.89,151.49 989.50,149.40 C992.11,147.31 999.05,144.98 1001.70,144.20 C1004.36,143.42 1004.55,143.94 1007.20,144.20 Z" fill="#d5d5d5"/>
<path d="M1007.20,153.80 C1009.33,154.07 1015.35,154.71 1017.70,156.40 C1020.06,158.09 1020.54,162.75 1022.90,165.10 C1025.25,167.45 1030.27,170.01 1033.40,172.10 C1036.54,174.19 1041.58,176.39 1043.80,179.00 C1046.02,181.61 1048.20,186.62 1048.20,189.50 C1048.20,192.38 1046.82,196.23 1043.80,198.20 C1040.78,200.16 1033.59,202.07 1028.10,202.60 C1022.61,203.12 1012.99,201.58 1007.20,201.70 C1001.41,201.82 994.51,203.67 989.50,203.40 C984.49,203.13 976.93,201.73 973.80,199.90 C970.66,198.07 969.12,194.06 968.60,191.20 C968.08,188.33 969.00,183.41 970.30,180.80 C971.60,178.19 974.42,175.63 977.30,173.80 C980.18,171.97 987.14,170.69 989.50,168.60 C991.86,166.51 990.90,162.00 993.00,159.90 C995.10,157.80 1001.37,155.51 1003.50,154.60 C1005.63,153.69 1005.07,153.53 1007.20,153.80 Z" fill="#c8c8c8"/>
<path d="M1007.20,161.60 C1008.82,162.38 1013.38,164.97 1016.00,166.80 C1018.62,168.63 1022.09,171.70 1024.70,173.80 C1027.31,175.90 1031.84,178.45 1033.40,180.80 C1034.96,183.16 1035.62,187.15 1035.10,189.50 C1034.57,191.85 1034.09,195.06 1029.90,196.50 C1025.72,197.94 1013.52,198.84 1007.20,199.10 C1000.88,199.35 991.50,199.38 987.80,198.20 C984.09,197.01 983.29,193.81 982.50,191.20 C981.71,188.59 981.18,183.41 982.50,180.80 C983.82,178.19 989.20,175.90 991.30,173.80 C993.40,171.70 994.41,168.63 996.50,166.80 C998.59,164.97 1003.60,162.38 1005.20,161.60 C1006.81,160.82 1005.58,160.82 1007.20,161.60 Z" fill="#b8b8b8"/>
<path d="M1007.20,169.40 C1009.08,169.79 1015.08,171.46 1017.70,172.90 C1020.33,174.34 1023.65,176.78 1024.70,179.00 C1025.75,181.22 1025.75,185.48 1024.70,187.70 C1023.65,189.92 1020.33,192.48 1017.70,193.80 C1015.08,195.12 1010.38,196.37 1007.20,196.50 C1004.02,196.63 998.88,196.02 996.50,194.70 C994.12,193.38 991.82,190.05 991.30,187.70 C990.77,185.34 991.97,181.09 993.00,179.00 C994.03,176.91 996.37,175.11 998.20,173.80 C1000.03,172.50 1003.85,170.96 1005.20,170.30 C1006.55,169.64 1005.33,169.01 1007.20,169.40 Z" fill="#a8a8a8"/>
<path d="M1007.20,174.70 C1009.33,174.70 1012.37,175.49 1014.20,176.40 C1016.03,177.31 1018.88,179.36 1019.40,180.80 C1019.92,182.24 1019.00,184.91 1017.70,186.00 C1016.40,187.09 1012.28,187.78 1010.70,188.10 C1009.12,188.41 1008.55,188.16 1007.20,188.10 C1005.85,188.04 1003.44,188.15 1001.70,187.70 C999.96,187.25 996.65,186.13 995.60,185.10 C994.55,184.06 994.04,182.11 994.70,180.80 C995.36,179.50 998.12,177.31 1000.00,176.40 C1001.88,175.49 1005.07,174.70 1007.20,174.70 Z" fill="#8a8a8a"/>
</g>
<line x1="912.0" y1="178.5" x2="1104.0" y2="178.5" class="dot"/>
<line x1="1007.5" y1="109.0" x2="1007.5" y2="248.0" class="dot"/>
<text transform="translate(1002.2,109.0) scale(0.92,1)" class="cl" text-anchor="start">90°</text>
<text transform="translate(1000.1,258.1) scale(0.92,1)" class="cl" text-anchor="start">270°</text>
<text transform="translate(914.0,181.8) scale(0.92,1)" class="cl" text-anchor="end">180°</text>
<text transform="translate(1106.5,181.6) scale(0.92,1)" class="cl" text-anchor="start">0°</text>
<g clip-path="url(#clip2)">
<circle cx="174.0" cy="379.6" r="24.8" fill="none" stroke="#1a1a1a" stroke-width="0.9"/>
<circle cx="174.0" cy="379.6" r="49.6" fill="none" stroke="#1a1a1a" stroke-width="0.9"/>
<circle cx="174.0" cy="379.6" r="74.4" fill="none" stroke="#1a1a1a" stroke-width="0.9"/>
<circle cx="174.0" cy="379.6" r="99.2" fill="none" stroke="#1a1a1a" stroke-width="0.9"/>
<line x1="178.31" y1="404.02" x2="191.23" y2="477.29" stroke="#1a1a1a" stroke-width="0.9"/>
<line x1="182.48" y1="402.90" x2="207.93" y2="472.82" stroke="#1a1a1a" stroke-width="0.9"/>
<line x1="186.40" y1="401.08" x2="223.60" y2="465.51" stroke="#1a1a1a" stroke-width="0.9"/>
<line x1="189.94" y1="398.60" x2="237.76" y2="455.59" stroke="#1a1a1a" stroke-width="0.9"/>
<line x1="193.00" y1="395.54" x2="249.99" y2="443.36" stroke="#1a1a1a" stroke-width="0.9"/>
<line x1="195.48" y1="392.00" x2="259.91" y2="429.20" stroke="#1a1a1a" stroke-width="0.9"/>
<line x1="197.30" y1="388.08" x2="267.22" y2="413.53" stroke="#1a1a1a" stroke-width="0.9"/>
<line x1="198.42" y1="383.91" x2="271.69" y2="396.83" stroke="#1a1a1a" stroke-width="0.9"/>
<line x1="198.42" y1="375.29" x2="271.69" y2="362.37" stroke="#1a1a1a" stroke-width="0.9"/>
<line x1="197.30" y1="371.12" x2="267.22" y2="345.67" stroke="#1a1a1a" stroke-width="0.9"/>
<line x1="195.48" y1="367.20" x2="259.91" y2="330.00" stroke="#1a1a1a" stroke-width="0.9"/>
<line x1="193.00" y1="363.66" x2="249.99" y2="315.84" stroke="#1a1a1a" stroke-width="0.9"/>
<line x1="189.94" y1="360.60" x2="237.76" y2="303.61" stroke="#1a1a1a" stroke-width="0.9"/>
<line x1="186.40" y1="358.12" x2="223.60" y2="293.69" stroke="#1a1a1a" stroke-width="0.9"/>
<line x1="182.48" y1="356.30" x2="207.93" y2="286.38" stroke="#1a1a1a" stroke-width="0.9"/>
<line x1="178.31" y1="355.18" x2="191.23" y2="281.91" stroke="#1a1a1a" stroke-width="0.9"/>
<line x1="169.69" y1="355.18" x2="156.77" y2="281.91" stroke="#1a1a1a" stroke-width="0.9"/>
<line x1="165.52" y1="356.30" x2="140.07" y2="286.38" stroke="#1a1a1a" stroke-width="0.9"/>
<line x1="161.60" y1="358.12" x2="124.40" y2="293.69" stroke="#1a1a1a" stroke-width="0.9"/>
<line x1="158.06" y1="360.60" x2="110.24" y2="303.61" stroke="#1a1a1a" stroke-width="0.9"/>
<line x1="155.00" y1="363.66" x2="98.01" y2="315.84" stroke="#1a1a1a" stroke-width="0.9"/>
<line x1="152.52" y1="367.20" x2="88.09" y2="330.00" stroke="#1a1a1a" stroke-width="0.9"/>
<line x1="150.70" y1="371.12" x2="80.78" y2="345.67" stroke="#1a1a1a" stroke-width="0.9"/>
<line x1="149.58" y1="375.29" x2="76.31" y2="362.37" stroke="#1a1a1a" stroke-width="0.9"/>
<line x1="149.58" y1="383.91" x2="76.31" y2="396.83" stroke="#1a1a1a" stroke-width="0.9"/>
<line x1="150.70" y1="388.08" x2="80.78" y2="413.53" stroke="#1a1a1a" stroke-width="0.9"/>
<line x1="152.52" y1="392.00" x2="88.09" y2="429.20" stroke="#1a1a1a" stroke-width="0.9"/>
<line x1="155.00" y1="395.54" x2="98.01" y2="443.36" stroke="#1a1a1a" stroke-width="0.9"/>
<line x1="158.06" y1="398.60" x2="110.24" y2="455.59" stroke="#1a1a1a" stroke-width="0.9"/>
<line x1="161.60" y1="401.08" x2="124.40" y2="465.51" stroke="#1a1a1a" stroke-width="0.9"/>
<line x1="165.52" y1="402.90" x2="140.07" y2="472.82" stroke="#1a1a1a" stroke-width="0.9"/>
<line x1="169.69" y1="404.02" x2="156.77" y2="477.29" stroke="#1a1a1a" stroke-width="0.9"/>
</g>
<text x="171.6" y="492.2" class="pl0">0°</text>
<text x="155.6" y="490.9" class="pl">10</text>
<text x="193.6" y="490.9" class="pl">10</text>
<text x="137.1" y="485.9" class="pl">20</text>
<text x="212.1" y="485.9" class="pl">20</text>
<text x="119.8" y="477.8" class="pl">30</text>
<text x="229.3" y="477.8" class="pl">30</text>
<text x="104.2" y="466.7" class="pl">40</text>
<text x="245.0" y="466.7" class="pl">40</text>
<text x="90.7" y="453.1" class="pl">50</text>
<text x="258.5" y="453.1" class="pl">50</text>
<text x="79.8" y="437.3" class="pl">60</text>
<text x="269.4" y="437.3" class="pl">60</text>
<text x="71.7" y="419.8" class="pl">70</text>
<text x="277.5" y="419.8" class="pl">70</text>
<text x="66.8" y="401.2" class="pl">80</text>
<text x="282.4" y="401.2" class="pl">80</text>
<text x="65.1" y="382.0" class="pl">90</text>
<text x="284.1" y="382.0" class="pl">90</text>
<text x="63.7" y="364.5" class="pl">100</text>
<text x="283.9" y="364.5" class="pl">100</text>
<path d="M174.00,379.60 C168.67,379.36 169.27,380.53 165.00,381.60 C160.73,382.67 161.04,382.32 158.00,383.60 C154.96,384.88 153.97,385.55 153.60,386.40 C153.23,387.25 155.13,386.93 156.60,386.80 C158.07,386.67 158.19,385.63 159.10,385.90 C160.01,386.17 160.27,386.63 160.00,387.80 C159.73,388.97 158.34,388.97 158.10,390.30 C157.86,391.63 158.19,392.27 159.10,392.80 C160.01,393.33 160.06,392.83 161.50,392.30 C162.94,391.77 162.93,391.73 164.50,390.80 C166.07,389.87 166.36,389.07 167.40,388.80 C168.44,388.53 168.27,387.43 168.40,389.80 C168.53,392.17 168.17,393.75 167.90,397.70 C167.63,401.65 167.27,400.65 167.40,404.60 C167.53,408.55 167.60,408.02 168.40,412.50 C169.20,416.98 169.07,417.99 170.40,421.40 C171.73,424.81 171.72,423.67 173.40,425.30 C175.08,426.93 174.38,425.29 176.70,427.50 C179.02,429.71 179.22,431.63 182.10,433.60 C184.98,435.57 184.27,433.65 187.50,434.90 C190.73,436.15 191.32,436.67 194.20,438.30 C197.08,439.93 195.42,440.09 198.30,441.00 C201.18,441.91 202.12,442.42 205.00,441.70 C207.88,440.98 206.94,440.11 209.10,438.30 C211.26,436.49 210.25,435.97 213.10,434.90 C215.95,433.83 215.13,434.46 219.80,434.30 C224.47,434.14 225.21,434.49 230.60,434.30 C235.99,434.11 236.05,434.32 240.00,433.60 C243.95,432.88 243.77,433.57 245.40,431.60 C247.03,429.63 247.17,430.52 246.10,426.20 C245.03,421.88 244.47,420.44 241.40,415.40 C238.33,410.36 238.55,411.62 234.60,407.30 C230.65,402.98 231.99,402.96 226.60,399.20 C221.21,395.44 220.51,395.89 214.40,393.20 C208.29,390.51 208.87,391.15 203.70,389.10 C198.53,387.05 199.99,387.26 195.00,385.50 C190.01,383.74 190.60,384.07 185.00,382.50 C179.40,380.93 179.33,379.84 174.00,379.60 Z" fill="none" stroke="#d0121f" stroke-width="1.6" stroke-linejoin="round"/>
<path d="M174.00,379.60 C172.48,379.68 175.47,380.65 172.40,381.40 C169.33,382.15 167.25,381.47 162.50,382.40 C157.75,383.33 158.81,383.46 154.60,384.90 C150.39,386.34 150.38,385.96 146.70,387.80 C143.02,389.64 143.17,389.96 140.80,391.80 C138.43,393.64 138.97,392.86 137.80,394.70 C136.63,396.54 137.17,396.06 136.40,398.70 C135.63,401.34 135.43,401.45 134.90,404.60 C134.37,407.75 134.27,407.33 134.40,410.50 C134.53,413.67 135.00,413.33 135.40,416.50 C135.80,419.67 135.53,420.05 135.90,422.40 C136.27,424.75 134.45,424.39 136.80,425.30 C139.15,426.21 140.49,426.31 144.70,425.80 C148.91,425.29 148.63,424.31 152.60,423.40 C156.57,422.49 155.65,422.27 159.60,422.40 C163.55,422.53 163.45,423.37 167.40,423.90 C171.35,424.43 170.11,424.51 174.40,424.40 C178.69,424.29 178.94,423.55 183.50,423.50 C188.06,423.45 187.93,423.48 191.50,424.20 C195.07,424.92 194.02,425.32 196.90,426.20 C199.78,427.08 199.77,427.31 202.30,427.50 C204.83,427.69 204.59,427.97 206.40,426.90 C208.21,425.83 207.85,426.57 209.10,423.50 C210.35,420.43 210.22,420.07 211.10,415.40 C211.98,410.73 212.59,410.67 212.40,406.00 C212.21,401.33 212.00,401.50 210.40,397.90 C208.80,394.30 209.28,395.19 206.40,392.50 C203.52,389.81 203.92,389.96 199.60,387.80 C195.28,385.64 195.93,386.19 190.20,384.40 C184.47,382.61 182.42,382.38 178.10,381.10 C173.78,379.82 175.52,379.52 174.00,379.60 Z" fill="none" stroke="#1a82c2" stroke-width="1.6" stroke-linejoin="round"/>
<g clip-path="url(#clip2)">
<line x1="74.80" y1="379.6" x2="273.20" y2="379.6" stroke="#000" stroke-width="2.2"/>
<line x1="174.0" y1="280.40" x2="174.0" y2="478.80" stroke="#000" stroke-width="2.2"/>
</g>
<g filter="url(#soft)">
<path d="M443.50,363.10 C447.14,363.10 453.16,363.11 456.70,364.20 C460.24,365.29 464.30,367.91 467.10,370.40 C469.91,372.89 473.22,377.68 475.40,380.80 C477.57,383.92 479.41,388.08 481.60,391.20 C483.79,394.32 487.50,398.78 490.00,401.60 C492.50,404.42 495.81,407.50 498.30,410.00 C500.79,412.50 504.58,415.50 506.60,418.30 C508.62,421.11 510.86,424.95 511.80,428.70 C512.75,432.45 513.37,439.55 512.90,443.30 C512.43,447.05 510.89,450.58 508.70,453.70 C506.51,456.82 502.37,461.45 498.30,464.10 C494.24,466.75 487.23,469.84 481.60,471.40 C475.98,472.96 466.51,474.03 460.80,474.50 C455.09,474.97 450.58,474.65 443.50,474.50 C436.42,474.35 420.58,474.12 413.60,473.50 C406.62,472.88 401.37,471.81 397.00,470.40 C392.63,468.99 387.62,466.61 384.50,464.10 C381.38,461.60 377.76,456.82 376.20,453.70 C374.64,450.58 374.27,446.74 374.10,443.30 C373.94,439.87 374.17,434.24 375.10,430.80 C376.03,427.37 378.26,423.20 380.30,420.40 C382.34,417.59 386.19,414.92 388.70,412.10 C391.20,409.28 394.51,404.74 397.00,401.60 C399.49,398.47 403.11,394.63 405.30,391.20 C407.49,387.76 409.10,381.82 411.60,378.70 C414.11,375.58 418.88,372.57 422.00,370.40 C425.12,368.22 429.17,365.29 432.40,364.20 C435.62,363.11 439.86,363.10 443.50,363.10 Z" fill="#f0f0f0"/>
<path d="M443.50,371.50 C446.83,371.81 453.16,372.89 456.70,374.60 C460.24,376.31 464.61,380.09 467.10,382.90 C469.59,385.70 471.12,390.18 473.30,393.30 C475.48,396.42 479.10,400.88 481.60,403.70 C484.11,406.52 487.81,409.28 490.00,412.10 C492.19,414.92 494.64,419.06 496.20,422.50 C497.76,425.94 499.93,431.25 500.40,435.00 C500.87,438.75 500.55,444.06 499.30,447.50 C498.06,450.94 496.32,455.41 492.10,457.90 C487.88,460.39 478.49,463.00 471.20,464.10 C463.91,465.20 453.38,465.20 443.50,465.20 C433.62,465.20 412.91,465.20 405.30,464.10 C397.69,463.00 395.29,460.39 392.80,457.90 C390.31,455.41 389.31,450.94 388.70,447.50 C388.08,444.06 388.40,438.45 388.70,435.00 C389.00,431.55 389.14,427.63 390.70,424.50 C392.26,421.37 396.28,417.22 399.10,414.10 C401.92,410.98 406.69,406.82 409.50,403.70 C412.31,400.58 415.61,396.74 417.80,393.30 C419.99,389.87 421.60,383.92 424.10,380.80 C426.61,377.68 431.59,373.89 434.50,372.50 C437.41,371.11 440.17,371.19 443.50,371.50 Z" fill="#e2e2e2"/>
<path d="M443.50,385.00 C447.14,385.00 453.79,387.32 456.70,389.20 C459.61,391.07 461.02,395.01 462.90,397.50 C464.77,399.99 467.32,403.31 469.20,405.80 C471.07,408.29 473.84,411.30 475.40,414.10 C476.96,416.91 478.97,420.75 479.60,424.50 C480.23,428.25 479.92,435.35 479.60,439.10 C479.29,442.85 479.38,447.00 477.50,449.50 C475.62,452.00 472.20,454.70 467.10,455.80 C462.00,456.90 451.52,456.80 443.50,456.80 C435.48,456.80 419.02,456.90 413.60,455.80 C408.19,454.70 408.64,452.00 407.40,449.50 C406.15,447.00 405.62,443.15 405.30,439.10 C404.99,435.05 404.67,426.55 405.30,422.50 C405.93,418.45 407.31,414.61 409.50,412.10 C411.69,409.60 417.71,408.31 419.90,405.80 C422.09,403.30 422.23,397.89 424.10,395.40 C425.98,392.91 429.49,390.76 432.40,389.20 C435.31,387.64 439.86,385.00 443.50,385.00 Z" fill="#d5d5d5"/>
<path d="M443.50,394.40 C447.14,394.56 452.32,396.11 454.60,397.50 C456.88,398.89 457.14,401.51 458.70,403.70 C460.26,405.89 463.12,409.60 465.00,412.10 C466.88,414.61 469.95,417.28 471.20,420.40 C472.44,423.52 472.99,429.46 473.30,432.90 C473.62,436.33 474.23,440.64 473.30,443.30 C472.37,445.96 471.57,449.36 467.10,450.60 C462.63,451.85 450.58,451.77 443.50,451.60 C436.42,451.44 424.22,451.06 419.90,449.50 C415.58,447.94 415.64,444.32 414.70,441.20 C413.75,438.08 413.45,432.45 413.60,428.70 C413.75,424.95 414.12,419.00 415.70,416.20 C417.27,413.39 422.54,412.19 424.10,410.00 C425.66,407.81 425.17,403.64 426.10,401.60 C427.03,399.56 427.69,397.48 430.30,396.40 C432.91,395.32 439.86,394.23 443.50,394.40 Z" fill="#c8c8c8"/>
<path d="M443.50,400.60 C446.20,400.92 450.52,402.29 452.50,403.70 C454.48,405.11 455.14,407.81 456.70,410.00 C458.26,412.19 461.34,415.50 462.90,418.30 C464.46,421.11 466.47,425.58 467.10,428.70 C467.73,431.82 468.05,436.60 467.10,439.10 C466.16,441.61 464.34,444.45 460.80,445.40 C457.26,446.34 449.00,445.71 443.50,445.40 C438.00,445.08 427.33,445.18 424.10,443.30 C420.88,441.43 422.17,436.33 422.00,432.90 C421.83,429.46 422.07,423.22 423.00,420.40 C423.93,417.58 427.10,415.98 428.20,414.10 C429.30,412.23 429.36,409.77 430.30,407.90 C431.25,406.02 432.52,402.69 434.50,401.60 C436.48,400.51 440.80,400.29 443.50,400.60 Z" fill="#b8b8b8"/>
<path d="M443.50,407.90 C446.20,408.05 450.52,409.44 452.50,411.00 C454.48,412.56 455.60,415.65 456.70,418.30 C457.80,420.95 459.80,425.89 459.80,428.70 C459.80,431.50 459.14,435.44 456.70,437.00 C454.25,438.56 447.46,439.10 443.50,439.10 C439.54,439.10 432.60,438.56 430.30,437.00 C428.00,435.44 428.20,431.50 428.20,428.70 C428.20,425.89 429.36,421.11 430.30,418.30 C431.25,415.50 432.52,411.56 434.50,410.00 C436.48,408.44 440.80,407.75 443.50,407.90 Z" fill="#a8a8a8"/>
<path d="M432.50,417.40 C436.02,416.71 451.94,416.71 455.50,417.40 C459.06,418.09 456.25,420.41 456.20,422.00 C456.15,423.59 455.98,426.45 455.20,428.00 C454.42,429.55 453.73,431.66 451.00,432.30 C448.27,432.94 439.73,432.94 437.00,432.30 C434.27,431.66 433.55,429.55 432.80,428.00 C432.05,426.45 432.05,423.59 432.00,422.00 C431.95,420.41 428.98,418.09 432.50,417.40 Z" fill="#939393"/>
</g>
<line x1="348.0" y1="418.5" x2="540.0" y2="418.5" class="dot"/>
<line x1="443.5" y1="349.0" x2="443.5" y2="488.0" class="dot"/>
<line x1="429.5" y1="418.5" x2="456.5" y2="418.5" class="dot" style="stroke:#111"/>
<text transform="translate(438.2,349.0) scale(0.92,1)" class="cl" text-anchor="start">90°</text>
<text transform="translate(436.1,498.1) scale(0.92,1)" class="cl" text-anchor="start">270°</text>
<text transform="translate(350.0,421.8) scale(0.92,1)" class="cl" text-anchor="end">180°</text>
<text transform="translate(542.5,421.6) scale(0.92,1)" class="cl" text-anchor="start">0°</text>
<g clip-path="url(#clip3)">
<circle cx="737.5" cy="379.7" r="24.8" fill="none" stroke="#1a1a1a" stroke-width="0.9"/>
<circle cx="737.5" cy="379.7" r="49.6" fill="none" stroke="#1a1a1a" stroke-width="0.9"/>
<circle cx="737.5" cy="379.7" r="74.4" fill="none" stroke="#1a1a1a" stroke-width="0.9"/>
<circle cx="737.5" cy="379.7" r="99.2" fill="none" stroke="#1a1a1a" stroke-width="0.9"/>
<line x1="741.81" y1="404.12" x2="754.73" y2="477.39" stroke="#1a1a1a" stroke-width="0.9"/>
<line x1="745.98" y1="403.00" x2="771.43" y2="472.92" stroke="#1a1a1a" stroke-width="0.9"/>
<line x1="749.90" y1="401.18" x2="787.10" y2="465.61" stroke="#1a1a1a" stroke-width="0.9"/>
<line x1="753.44" y1="398.70" x2="801.26" y2="455.69" stroke="#1a1a1a" stroke-width="0.9"/>
<line x1="756.50" y1="395.64" x2="813.49" y2="443.46" stroke="#1a1a1a" stroke-width="0.9"/>
<line x1="758.98" y1="392.10" x2="823.41" y2="429.30" stroke="#1a1a1a" stroke-width="0.9"/>
<line x1="760.80" y1="388.18" x2="830.72" y2="413.63" stroke="#1a1a1a" stroke-width="0.9"/>
<line x1="761.92" y1="384.01" x2="835.19" y2="396.93" stroke="#1a1a1a" stroke-width="0.9"/>
<line x1="761.92" y1="375.39" x2="835.19" y2="362.47" stroke="#1a1a1a" stroke-width="0.9"/>
<line x1="760.80" y1="371.22" x2="830.72" y2="345.77" stroke="#1a1a1a" stroke-width="0.9"/>
<line x1="758.98" y1="367.30" x2="823.41" y2="330.10" stroke="#1a1a1a" stroke-width="0.9"/>
<line x1="756.50" y1="363.76" x2="813.49" y2="315.94" stroke="#1a1a1a" stroke-width="0.9"/>
<line x1="753.44" y1="360.70" x2="801.26" y2="303.71" stroke="#1a1a1a" stroke-width="0.9"/>
<line x1="749.90" y1="358.22" x2="787.10" y2="293.79" stroke="#1a1a1a" stroke-width="0.9"/>
<line x1="745.98" y1="356.40" x2="771.43" y2="286.48" stroke="#1a1a1a" stroke-width="0.9"/>
<line x1="741.81" y1="355.28" x2="754.73" y2="282.01" stroke="#1a1a1a" stroke-width="0.9"/>
<line x1="733.19" y1="355.28" x2="720.27" y2="282.01" stroke="#1a1a1a" stroke-width="0.9"/>
<line x1="729.02" y1="356.40" x2="703.57" y2="286.48" stroke="#1a1a1a" stroke-width="0.9"/>
<line x1="725.10" y1="358.22" x2="687.90" y2="293.79" stroke="#1a1a1a" stroke-width="0.9"/>
<line x1="721.56" y1="360.70" x2="673.74" y2="303.71" stroke="#1a1a1a" stroke-width="0.9"/>
<line x1="718.50" y1="363.76" x2="661.51" y2="315.94" stroke="#1a1a1a" stroke-width="0.9"/>
<line x1="716.02" y1="367.30" x2="651.59" y2="330.10" stroke="#1a1a1a" stroke-width="0.9"/>
<line x1="714.20" y1="371.22" x2="644.28" y2="345.77" stroke="#1a1a1a" stroke-width="0.9"/>
<line x1="713.08" y1="375.39" x2="639.81" y2="362.47" stroke="#1a1a1a" stroke-width="0.9"/>
<line x1="713.08" y1="384.01" x2="639.81" y2="396.93" stroke="#1a1a1a" stroke-width="0.9"/>
<line x1="714.20" y1="388.18" x2="644.28" y2="413.63" stroke="#1a1a1a" stroke-width="0.9"/>
<line x1="716.02" y1="392.10" x2="651.59" y2="429.30" stroke="#1a1a1a" stroke-width="0.9"/>
<line x1="718.50" y1="395.64" x2="661.51" y2="443.46" stroke="#1a1a1a" stroke-width="0.9"/>
<line x1="721.56" y1="398.70" x2="673.74" y2="455.69" stroke="#1a1a1a" stroke-width="0.9"/>
<line x1="725.10" y1="401.18" x2="687.90" y2="465.61" stroke="#1a1a1a" stroke-width="0.9"/>
<line x1="729.02" y1="403.00" x2="703.57" y2="472.92" stroke="#1a1a1a" stroke-width="0.9"/>
<line x1="733.19" y1="404.12" x2="720.27" y2="477.39" stroke="#1a1a1a" stroke-width="0.9"/>
</g>
<text x="735.1" y="492.3" class="pl0">0°</text>
<text x="719.1" y="491.0" class="pl">10</text>
<text x="757.1" y="491.0" class="pl">10</text>
<text x="700.6" y="486.0" class="pl">20</text>
<text x="775.6" y="486.0" class="pl">20</text>
<text x="683.4" y="477.9" class="pl">30</text>
<text x="792.9" y="477.9" class="pl">30</text>
<text x="667.7" y="466.8" class="pl">40</text>
<text x="808.5" y="466.8" class="pl">40</text>
<text x="654.2" y="453.2" class="pl">50</text>
<text x="822.0" y="453.2" class="pl">50</text>
<text x="643.3" y="437.4" class="pl">60</text>
<text x="832.9" y="437.4" class="pl">60</text>
<text x="635.2" y="419.9" class="pl">70</text>
<text x="841.0" y="419.9" class="pl">70</text>
<text x="630.3" y="401.3" class="pl">80</text>
<text x="845.9" y="401.3" class="pl">80</text>
<text x="628.6" y="382.1" class="pl">90</text>
<text x="847.6" y="382.1" class="pl">90</text>
<text x="627.2" y="364.6" class="pl">100</text>
<text x="847.4" y="364.6" class="pl">100</text>
<path d="M737.50,379.70 C735.79,379.59 735.89,380.15 734.00,381.30 C732.11,382.45 731.60,382.08 730.40,384.00 C729.20,385.92 729.26,386.47 729.50,388.50 C729.74,390.53 729.97,390.05 731.30,391.60 C732.63,393.15 733.35,392.49 734.50,394.30 C735.65,396.11 735.07,395.17 735.60,398.40 C736.13,401.63 735.97,401.87 736.50,406.40 C737.03,410.93 736.93,411.93 737.60,415.40 C738.27,418.87 737.91,416.89 739.00,419.40 C740.09,421.91 739.89,422.45 741.70,424.80 C743.51,427.15 742.92,426.41 745.80,428.20 C748.68,429.99 748.21,429.18 752.50,431.50 C756.79,433.82 756.89,434.02 761.90,436.90 C766.91,439.78 766.63,440.14 771.30,442.30 C775.97,444.46 776.15,444.65 779.40,445.00 C782.65,445.35 781.53,445.39 783.50,443.60 C785.47,441.81 786.11,441.53 786.80,438.30 C787.49,435.07 787.70,435.82 786.10,431.50 C784.50,427.18 784.37,427.11 780.80,422.10 C777.23,417.09 777.74,418.09 772.70,412.70 C767.66,407.31 767.63,407.63 761.90,401.90 C756.17,396.17 756.93,396.59 751.20,391.20 C745.47,385.81 744.05,384.77 740.40,381.70 C736.75,378.63 739.21,379.81 737.50,379.70 Z" fill="none" stroke="#1a82c2" stroke-width="1.6" stroke-linejoin="round"/>
<path d="M737.50,379.70 C734.97,379.86 735.29,380.55 732.20,381.70 C729.11,382.85 729.95,381.95 725.90,384.00 C721.85,386.05 721.77,386.28 717.00,389.40 C712.23,392.52 712.08,392.58 708.00,395.70 C703.92,398.82 703.99,398.49 701.70,401.10 C699.41,403.71 699.64,403.47 699.40,405.50 C699.16,407.53 699.23,407.74 700.80,408.70 C702.37,409.66 703.27,408.86 705.30,409.10 C707.33,409.34 707.09,408.88 708.40,409.60 C709.71,410.32 708.87,411.69 710.20,411.80 C711.53,411.91 711.59,411.07 713.40,410.00 C715.21,408.93 714.63,408.52 717.00,407.80 C719.37,407.08 719.93,406.82 722.30,407.30 C724.67,407.78 723.74,408.40 725.90,409.60 C728.06,410.80 728.00,410.84 730.40,411.80 C732.80,412.76 732.74,412.75 734.90,413.20 C737.06,413.65 736.69,414.01 738.50,413.50 C740.31,412.99 739.41,412.61 741.70,411.30 C743.99,409.99 744.22,409.85 747.10,408.60 C749.98,407.35 749.27,406.60 752.50,406.60 C755.73,406.60 756.69,407.88 759.20,408.60 C761.71,409.32 760.65,409.83 761.90,409.30 C763.15,408.77 762.11,407.32 763.90,406.60 C765.69,405.88 766.63,407.32 768.60,406.60 C770.57,405.88 771.30,405.87 771.30,403.90 C771.30,401.93 771.11,401.89 768.60,399.20 C766.09,396.51 766.54,397.03 761.90,393.80 C757.26,390.57 756.59,390.49 751.20,387.10 C745.81,383.71 745.35,383.07 741.70,381.10 C738.05,379.13 740.03,379.54 737.50,379.70 Z" fill="none" stroke="#d0121f" stroke-width="1.6" stroke-linejoin="round"/>
<g clip-path="url(#clip3)">
<line x1="638.30" y1="379.7" x2="836.70" y2="379.7" stroke="#000" stroke-width="2.2"/>
<line x1="737.5" y1="280.50" x2="737.5" y2="478.90" stroke="#000" stroke-width="1.2"/>
</g>
<g filter="url(#soft)">
<path d="M1006.50,360.20 C1010.12,359.56 1017.40,359.24 1021.60,360.20 C1025.80,361.16 1031.26,364.02 1034.50,366.60 C1037.74,369.18 1040.93,373.83 1043.20,377.40 C1045.47,380.97 1048.14,386.18 1049.60,390.40 C1051.05,394.62 1052.40,400.64 1052.90,405.50 C1053.40,410.36 1053.23,417.62 1052.90,422.80 C1052.57,427.98 1051.84,435.15 1050.70,440.00 C1049.56,444.85 1047.73,451.22 1045.30,455.10 C1042.87,458.99 1038.06,463.31 1034.50,465.90 C1030.94,468.49 1025.80,471.42 1021.60,472.40 C1017.40,473.38 1009.80,472.73 1006.50,472.40 C1003.20,472.07 1002.24,471.49 999.60,470.20 C996.96,468.91 991.81,466.06 988.90,463.80 C985.99,461.54 983.12,457.70 980.20,455.10 C977.28,452.50 972.64,449.08 969.40,446.50 C966.16,443.92 961.03,440.81 958.60,437.90 C956.17,434.99 954.01,430.99 953.20,427.10 C952.39,423.22 952.71,416.22 953.20,412.00 C953.70,407.78 954.72,402.57 956.50,399.00 C958.28,395.43 962.19,391.27 965.10,388.20 C968.01,385.12 972.33,380.76 975.90,378.50 C979.47,376.24 985.66,375.20 988.90,373.10 C992.14,371.00 994.86,366.44 997.50,364.50 C1000.14,362.56 1002.88,360.84 1006.50,360.20 Z" fill="#f0f0f0"/>
<path d="M1006.50,365.60 C1010.12,364.94 1017.72,365.15 1021.60,366.60 C1025.49,368.06 1029.81,372.38 1032.40,375.30 C1035.00,378.23 1037.28,382.22 1038.90,386.10 C1040.52,389.99 1042.40,395.69 1043.20,401.20 C1044.00,406.70 1044.37,416.98 1044.20,422.80 C1044.04,428.62 1043.22,435.47 1042.10,440.00 C1040.97,444.53 1039.13,449.76 1036.70,453.00 C1034.27,456.24 1030.43,459.98 1025.90,461.60 C1021.37,463.22 1011.40,464.13 1006.50,463.80 C1001.60,463.47 996.82,461.35 993.20,459.40 C989.59,457.45 985.64,453.38 982.40,450.80 C979.16,448.22 974.51,445.44 971.60,442.20 C968.69,438.96 964.46,433.41 963.00,429.20 C961.54,424.99 961.58,418.30 961.90,414.10 C962.22,409.90 963.00,405.08 965.10,401.20 C967.20,397.31 972.33,391.44 975.90,388.20 C979.47,384.96 985.66,382.18 988.90,379.60 C992.14,377.02 994.86,373.10 997.50,371.00 C1000.14,368.90 1002.88,366.26 1006.50,365.60 Z" fill="#e2e2e2"/>
<path d="M1006.50,373.10 C1009.78,372.46 1016.16,374.01 1019.40,375.30 C1022.64,376.59 1025.83,379.12 1028.10,381.70 C1030.37,384.28 1033.05,388.62 1034.50,392.50 C1035.95,396.38 1037.14,403.06 1037.80,407.60 C1038.46,412.15 1039.07,417.94 1038.90,422.80 C1038.74,427.66 1038.01,435.80 1036.70,440.00 C1035.39,444.20 1032.80,448.37 1030.20,450.80 C1027.61,453.23 1022.95,455.39 1019.40,456.20 C1015.85,457.01 1010.43,457.01 1006.50,456.20 C1002.57,455.39 997.14,453.23 993.20,450.80 C989.26,448.37 983.12,443.56 980.20,440.00 C977.28,436.44 974.68,431.30 973.70,427.10 C972.73,422.90 972.73,416.22 973.70,412.00 C974.68,407.78 977.61,402.57 980.20,399.00 C982.80,395.43 988.40,391.11 991.00,388.20 C993.60,385.29 995.17,381.87 997.50,379.60 C999.83,377.34 1003.22,373.75 1006.50,373.10 Z" fill="#d5d5d5"/>
<path d="M1006.50,381.70 C1009.15,381.06 1014.39,382.59 1017.30,383.90 C1020.21,385.20 1023.80,387.49 1025.90,390.40 C1028.00,393.31 1030.33,398.77 1031.30,403.30 C1032.27,407.83 1032.57,415.41 1032.40,420.60 C1032.24,425.79 1031.51,434.01 1030.20,437.90 C1028.89,441.78 1027.26,444.73 1023.70,446.50 C1020.14,448.27 1010.43,449.70 1006.50,449.70 C1002.57,449.70 1000.31,448.27 997.50,446.50 C994.69,444.73 989.90,441.14 987.80,437.90 C985.70,434.66 984.00,429.11 983.50,424.90 C983.00,420.69 983.04,414.00 984.50,409.80 C985.96,405.60 990.94,400.14 993.20,396.90 C995.47,393.66 997.61,390.48 999.60,388.20 C1001.60,385.92 1003.85,382.34 1006.50,381.70 Z" fill="#c8c8c8"/>
<path d="M1006.50,388.20 C1008.83,387.22 1012.52,389.09 1015.10,390.40 C1017.68,391.70 1021.92,394.32 1023.70,396.90 C1025.49,399.48 1026.34,403.72 1027.00,407.60 C1027.66,411.49 1028.26,418.59 1028.10,422.80 C1027.93,427.01 1027.21,432.79 1025.90,435.70 C1024.60,438.61 1022.31,440.91 1019.40,442.20 C1016.49,443.49 1009.14,444.30 1006.50,444.30 C1003.86,444.30 1003.48,443.82 1001.80,442.20 C1000.12,440.58 996.59,436.74 995.30,433.50 C994.01,430.26 993.20,424.49 993.20,420.60 C993.20,416.72 994.34,411.16 995.30,407.60 C996.26,404.05 997.92,399.81 999.60,396.90 C1001.28,393.99 1004.17,389.18 1006.50,388.20 Z" fill="#b8b8b8"/>
<path d="M1006.50,394.70 C1008.33,393.41 1012.84,395.28 1015.10,396.90 C1017.37,398.52 1020.31,401.94 1021.60,405.50 C1022.89,409.06 1023.70,416.40 1023.70,420.60 C1023.70,424.80 1022.89,430.59 1021.60,433.50 C1020.31,436.41 1017.37,438.86 1015.10,440.00 C1012.84,441.14 1008.50,442.72 1006.50,441.10 C1004.50,439.48 1002.67,432.92 1001.80,429.20 C1000.93,425.48 1000.54,419.86 1000.70,416.30 C1000.87,412.75 1002.03,408.74 1002.90,405.50 C1003.77,402.26 1004.67,395.99 1006.50,394.70 Z" fill="#a8a8a8"/>
<path d="M1007.60,400.20 C1008.25,399.28 1010.30,399.90 1011.50,399.90 C1012.70,399.90 1014.55,399.44 1015.60,400.20 C1016.65,400.96 1017.75,403.38 1018.50,405.00 C1019.25,406.62 1020.25,409.20 1020.60,411.00 C1020.95,412.80 1020.80,415.12 1020.80,417.00 C1020.80,418.88 1020.95,421.55 1020.60,423.50 C1020.25,425.45 1019.25,428.03 1018.50,430.00 C1017.75,431.97 1016.65,435.55 1015.60,436.60 C1014.55,437.65 1012.70,437.00 1011.50,437.00 C1010.30,437.00 1008.25,437.65 1007.60,436.60 C1006.96,435.55 1007.29,432.79 1007.20,430.00 C1007.11,427.21 1007.00,421.60 1007.00,418.00 C1007.00,414.40 1007.11,408.67 1007.20,406.00 C1007.29,403.33 1006.96,401.12 1007.60,400.20 Z" fill="#8c8c8c"/>
</g>
<line x1="911.0" y1="418.5" x2="1103.0" y2="418.5" class="dot"/>
<line x1="1006.5" y1="349.0" x2="1006.5" y2="488.0" class="dot"/>
<text transform="translate(1001.2,349.0) scale(0.92,1)" class="cl" text-anchor="start">90°</text>
<text transform="translate(999.1,498.1) scale(0.92,1)" class="cl" text-anchor="start">270°</text>
<text transform="translate(913.0,421.8) scale(0.92,1)" class="cl" text-anchor="end">180°</text>
<text transform="translate(1105.5,421.6) scale(0.92,1)" class="cl" text-anchor="start">0°</text>
</svg>
</body></html>
